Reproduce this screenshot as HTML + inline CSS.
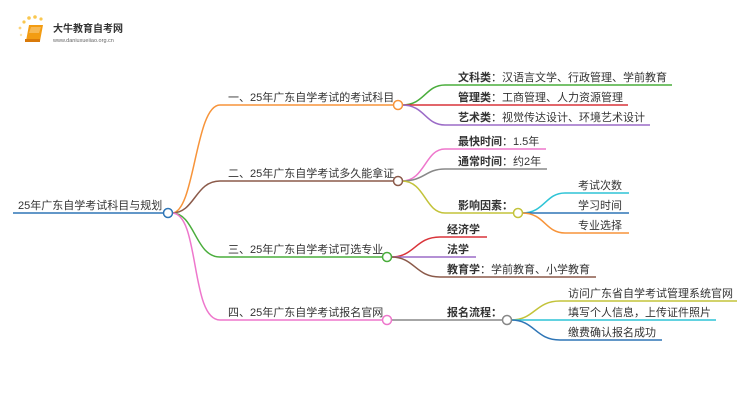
<!DOCTYPE html>
<html><head><meta charset="utf-8"><style>
html,body{margin:0;padding:0;background:#fff;}
svg{display:block;}
text{font-family:"Liberation Sans","Noto Sans CJK SC",sans-serif;font-size:11px;fill:#333;}
.b{font-weight:bold;}
</style></head><body>
<svg width="750" height="410" viewBox="0 0 750 410" xmlns="http://www.w3.org/2000/svg">
<g>
<circle cx="24" cy="22" r="1.6" fill="#f9c74f"/><circle cx="29" cy="18" r="1.8" fill="#f9c74f"/><circle cx="35" cy="17" r="1.8" fill="#f9c74f"/><circle cx="41" cy="19" r="1.6" fill="#f9c74f"/><circle cx="20" cy="28" r="1.4" fill="#fbd27a"/><circle cx="21" cy="35" r="1.2" fill="#fde3a7"/>
<path d="M29 25 L43 25 L40 41 L26 41 Z" fill="#f39c12"/>
<path d="M31 27 L41 27 L39 33 L29 33 Z" fill="#f7b955"/>
<rect x="25" y="39" width="15" height="3" fill="#d97a0a"/>
<text x="53" y="32" style="font-size:10px;font-weight:bold;fill:#333">大牛教育自考网</text>
<text x="53" y="42" style="font-size:5.5px;fill:#666">www.daniuxueiiao.org.cn</text>
</g>
<g fill="none" stroke-width="1.5">
<path d="M13 213 L164 213" stroke="#2e75b6"/>
<path d="M172 213 C195 213 195 105 220 105 L394 105" stroke="#f7943a"/>
<path d="M172 213 C195 213 195 181 220 181 L394 181" stroke="#8b5a4a"/>
<path d="M172 213 C195 213 195 257 220 257 L383 257" stroke="#4aad3c"/>
<path d="M172 213 C200 213 190 320 220 320 L383 320" stroke="#ee77cc"/>
<path d="M402 105 C425 105 425 85 445 85 L672 85" stroke="#4aad3c"/>
<path d="M402 105 L628 105" stroke="#d9343a"/>
<path d="M402 105 C425 105 425 125 445 125 L650 125" stroke="#9b6bc7"/>
<path d="M402 181 C425 181 425 149 445 149 L546 149" stroke="#ee77cc"/>
<path d="M402 181 C425 181 425 169 445 169 L547 169" stroke="#888"/>
<path d="M402 181 C425 181 425 213 445 213 L514 213" stroke="#c3c33a"/>
<path d="M522 213 C545 213 545 193 565 193 L629 193" stroke="#2ec4d6"/>
<path d="M522 213 L629 213" stroke="#2e75b6"/>
<path d="M522 213 C545 213 545 233 565 233 L629 233" stroke="#f7943a"/>
<path d="M391 257 C415 257 415 237 440 237 L487 237" stroke="#d9343a"/>
<path d="M391 257 L476 257" stroke="#9b6bc7"/>
<path d="M391 257 C415 257 415 277 440 277 L596 277" stroke="#8b5a4a"/>
<path d="M391 320 L503 320" stroke="#888"/>
<path d="M511 320 C535 320 535 301 560 301 L737 301" stroke="#c3c33a"/>
<path d="M511 320 L716 320" stroke="#2ec4d6"/>
<path d="M511 320 C535 320 535 340 560 340 L662 340" stroke="#2e75b6"/>
</g>
<g fill="#fff" stroke-width="1.5">
<circle cx="168" cy="213" r="4.5" stroke="#2e75b6"/>
<circle cx="398" cy="105" r="4.5" stroke="#f7943a"/>
<circle cx="398" cy="181" r="4.5" stroke="#8b5a4a"/>
<circle cx="387" cy="257" r="4.5" stroke="#4aad3c"/>
<circle cx="387" cy="320" r="4.5" stroke="#ee77cc"/>
<circle cx="518" cy="213" r="4.5" stroke="#c3c33a"/>
<circle cx="507" cy="320" r="4.5" stroke="#888"/>
</g>
<text x="18" y="209">25年广东自学考试科目与规划</text>
<text x="228" y="101">一、25年广东自学考试的考试科目</text>
<text x="228" y="177">二、25年广东自学考试多久能拿证</text>
<text x="228" y="253">三、25年广东自学考试可选专业</text>
<text x="228" y="316">四、25年广东自学考试报名官网</text>
<text x="458" y="81"><tspan class="b">文科类</tspan>：汉语言文学、行政管理、学前教育</text>
<text x="458" y="101"><tspan class="b">管理类</tspan>：工商管理、人力资源管理</text>
<text x="458" y="121"><tspan class="b">艺术类</tspan>：视觉传达设计、环境艺术设计</text>
<text x="458" y="145"><tspan class="b">最快时间</tspan>：1.5年</text>
<text x="458" y="165"><tspan class="b">通常时间</tspan>：约2年</text>
<text x="458" y="209" class="b">影响因素：</text>
<text x="578" y="189">考试次数</text>
<text x="578" y="209">学习时间</text>
<text x="578" y="229">专业选择</text>
<text x="447" y="233" class="b">经济学</text>
<text x="447" y="253" class="b">法学</text>
<text x="447" y="273"><tspan class="b">教育学</tspan>：学前教育、小学教育</text>
<text x="447" y="316" class="b">报名流程：</text>
<text x="568" y="297">访问广东省自学考试管理系统官网</text>
<text x="568" y="316">填写个人信息，上传证件照片</text>
<text x="568" y="336">缴费确认报名成功</text>
</svg>
</body></html>
